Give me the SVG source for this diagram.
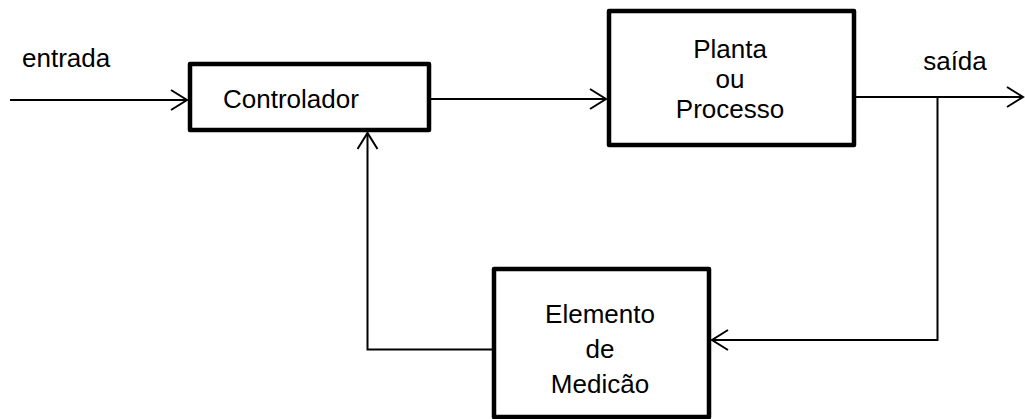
<svg xmlns="http://www.w3.org/2000/svg" width="1025" height="419" viewBox="0 0 1025 419">
  <style>
    .box { fill: #ffffff; stroke: #000000; stroke-width: 4.5; stroke-linejoin: round; }
    .wire { fill: none; stroke: #000000; stroke-width: 2; }
    .label { font-family: "Liberation Sans", Arial, sans-serif; font-size: 26px; fill: #000000; }
    .mid { text-anchor: middle; }
  </style>
  <defs>
    <marker id="open-arrow" markerUnits="userSpaceOnUse" markerWidth="22" markerHeight="24" refX="17" refY="11" orient="auto">
      <path d="M1,1 L17,11 L1,21" fill="none" stroke="#000000" stroke-width="2"/>
    </marker>
  </defs>

  <rect width="1025" height="419" fill="#ffffff"/>

  <!-- connectors -->
  <g id="connectors">
    <line class="wire" x1="10" y1="100" x2="187" y2="100" marker-end="url(#open-arrow)"/>
    <line class="wire" x1="431" y1="99" x2="606" y2="99" marker-end="url(#open-arrow)"/>
    <line class="wire" x1="856" y1="97" x2="1023" y2="97" marker-end="url(#open-arrow)"/>
    <polyline class="wire" points="937.5,97 937.5,340 712,340" marker-end="url(#open-arrow)"/>
    <polyline class="wire" points="492,349.5 367.5,349.5 367.5,133" marker-end="url(#open-arrow)"/>
  </g>

  <!-- blocks -->
  <g id="controlador">
    <rect class="box" x="190" y="64" width="239" height="66"/>
    <text class="label" x="223" y="108">Controlador</text>
  </g>

  <g id="planta">
    <rect class="box" x="609" y="11" width="245" height="134"/>
    <text class="label mid" x="730" y="58">Planta</text>
    <text class="label mid" x="730" y="88">ou</text>
    <text class="label mid" x="730" y="118">Processo</text>
  </g>

  <g id="medicao">
    <rect class="box" x="494" y="269" width="215" height="148"/>
    <text class="label mid" x="600" y="323">Elemento</text>
    <text class="label mid" x="600" y="358">de</text>
    <text class="label mid" x="600" y="393">Medicão</text>
  </g>

  <!-- signal names -->
  <g id="signal-labels">
    <text class="label" x="22" y="67">entrada</text>
    <text class="label mid" x="955" y="70">saída</text>
  </g>
</svg>
